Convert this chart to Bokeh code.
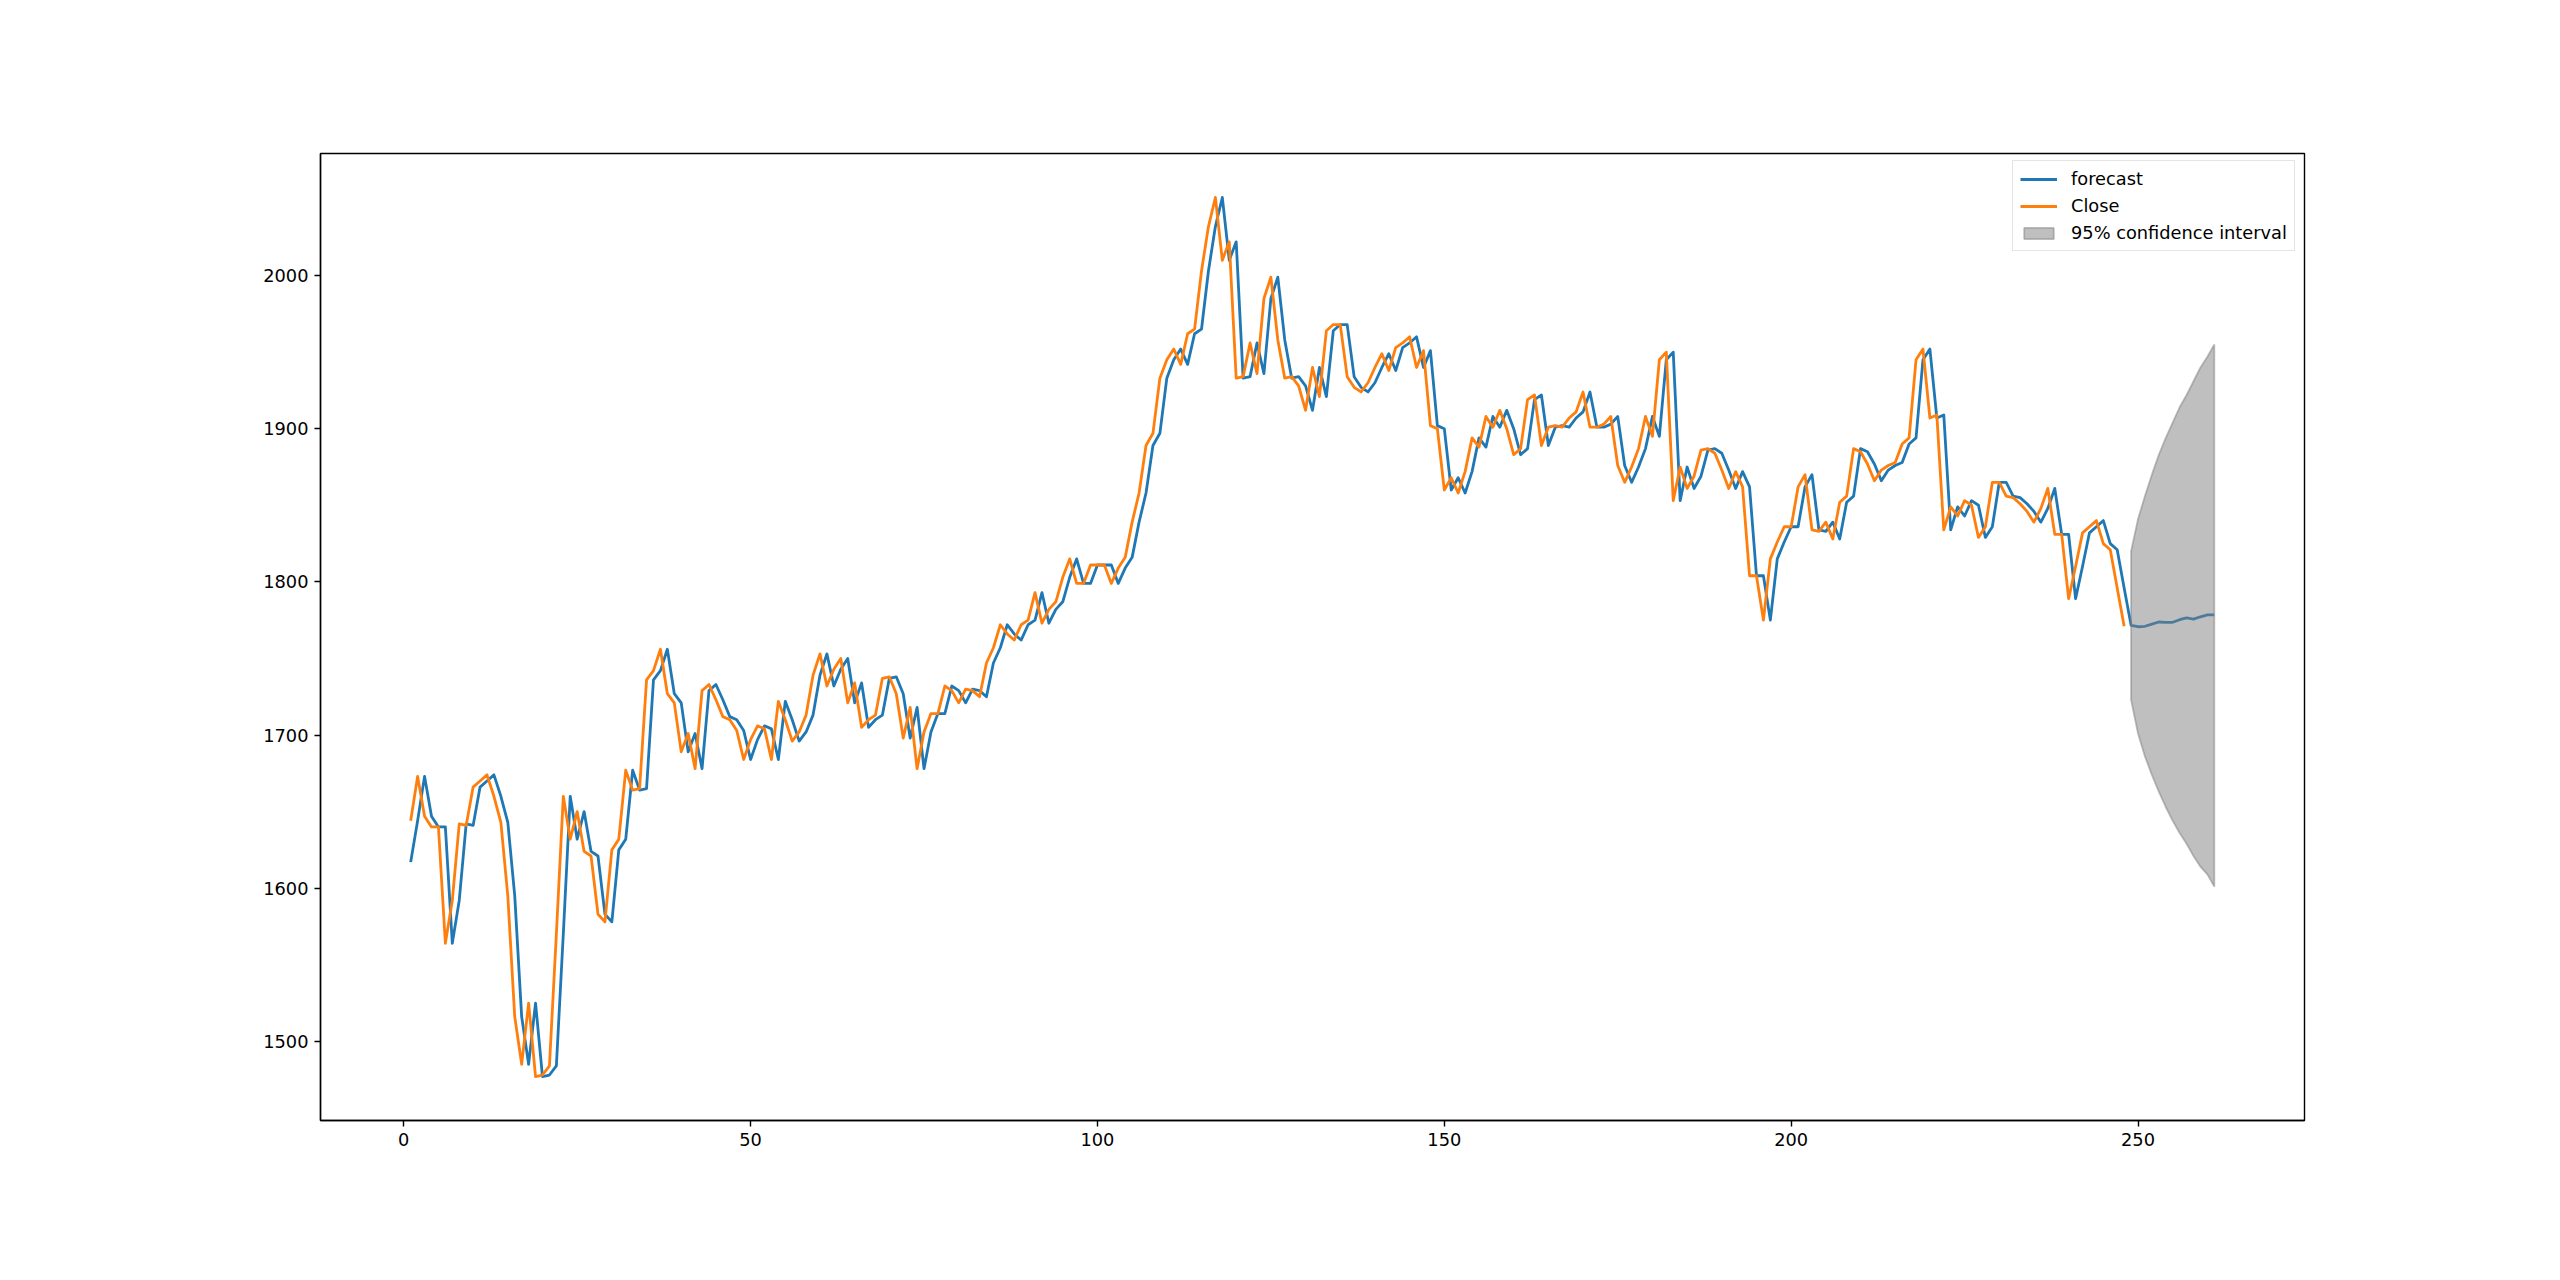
from bokeh.plotting import figure
from bokeh.models import Range1d, FixedTicker, Legend, LegendItem
from bokeh.embed import file_html
from bokeh.resources import INLINE

# ---- data ----
close_t = list(range(1, 249))
close = [
    1644, 1673, 1647, 1640, 1640, 1564, 1592, 1642, 1641, 1666,
    1670, 1674, 1660, 1643, 1595, 1516, 1485, 1525, 1477, 1478,
    1484, 1570, 1660, 1632, 1650, 1624, 1621, 1583, 1578, 1625,
    1632, 1677, 1664, 1665, 1736, 1742, 1756, 1727, 1721, 1689,
    1701, 1678, 1729, 1733, 1723, 1712, 1710, 1703, 1684, 1697,
    1706, 1704, 1684, 1722, 1710, 1696, 1702, 1713, 1739, 1753,
    1732, 1743, 1750, 1721, 1734, 1705, 1710, 1713, 1737, 1738,
    1727, 1698, 1718, 1678, 1702, 1714, 1714, 1732, 1729, 1721,
    1730, 1729, 1725, 1747, 1757, 1772, 1766, 1762, 1772, 1775,
    1793, 1773, 1782, 1787, 1803, 1815, 1799, 1799, 1811, 1811,
    1811, 1799, 1809, 1816, 1839, 1858, 1889, 1897, 1933, 1945,
    1952, 1942, 1962, 1965, 2003, 2032, 2051, 2010, 2022, 1933,
    1934, 1956, 1936, 1985, 1999, 1958, 1933, 1934, 1928, 1912,
    1940, 1921, 1964, 1968, 1968, 1934, 1927, 1924, 1930, 1940,
    1949, 1938, 1953, 1956, 1960, 1940, 1951, 1902, 1900, 1860,
    1868, 1858, 1872, 1894, 1888, 1908, 1901, 1912, 1900, 1883,
    1887, 1919, 1922, 1889, 1901, 1902, 1901, 1907, 1911, 1924,
    1901, 1901, 1903, 1908, 1876, 1865, 1875, 1887, 1908, 1895,
    1945, 1950, 1853, 1875, 1861, 1869, 1886, 1887, 1884, 1873,
    1861, 1872, 1862, 1804, 1804, 1775, 1815, 1826, 1836, 1836,
    1862, 1870, 1834, 1833, 1839, 1828, 1852, 1856, 1887, 1885,
    1877, 1866, 1873, 1876, 1878, 1890, 1894, 1945, 1952, 1907,
    1909, 1834, 1849, 1843, 1853, 1850, 1829, 1836, 1865, 1865,
    1856, 1855, 1851, 1846, 1839, 1848, 1861, 1831, 1831, 1789,
    1810, 1832, 1836, 1840, 1825, 1821, 1796, 1771,
]

forecast_t = list(range(1, 262))
forecast = [
    1617, 1644, 1673, 1647, 1640, 1640, 1564, 1592, 1642, 1641,
    1666, 1670, 1674, 1660, 1643, 1595, 1516, 1485, 1525, 1477,
    1478, 1484, 1570, 1660, 1632, 1650, 1624, 1621, 1583, 1578,
    1625, 1632, 1677, 1664, 1665, 1736, 1742, 1756, 1727, 1721,
    1689, 1701, 1678, 1729, 1733, 1723, 1712, 1710, 1703, 1684,
    1697, 1706, 1704, 1684, 1722, 1710, 1696, 1702, 1713, 1739,
    1753, 1732, 1743, 1750, 1721, 1734, 1705, 1710, 1713, 1737,
    1738, 1727, 1698, 1718, 1678, 1702, 1714, 1714, 1732, 1729,
    1721, 1730, 1729, 1725, 1747, 1757, 1772, 1766, 1762, 1772,
    1775, 1793, 1773, 1782, 1787, 1803, 1815, 1799, 1799, 1811,
    1811, 1811, 1799, 1809, 1816, 1839, 1858, 1889, 1897, 1933,
    1945, 1952, 1942, 1962, 1965, 2003, 2032, 2051, 2010, 2022,
    1933, 1934, 1956, 1936, 1985, 1999, 1958, 1933, 1934, 1928,
    1912, 1940, 1921, 1964, 1968, 1968, 1934, 1927, 1924, 1930,
    1940, 1949, 1938, 1953, 1956, 1960, 1940, 1951, 1902, 1900,
    1860, 1868, 1858, 1872, 1894, 1888, 1908, 1901, 1912, 1900,
    1883, 1887, 1919, 1922, 1889, 1901, 1902, 1901, 1907, 1911,
    1924, 1901, 1901, 1903, 1908, 1876, 1865, 1875, 1887, 1908,
    1895, 1945, 1950, 1853, 1875, 1861, 1869, 1886, 1887, 1884,
    1873, 1861, 1872, 1862, 1804, 1804, 1775, 1815, 1826, 1836,
    1836, 1862, 1870, 1834, 1833, 1839, 1828, 1852, 1856, 1887,
    1885, 1877, 1866, 1873, 1876, 1878, 1890, 1894, 1945, 1952,
    1907, 1909, 1834, 1849, 1843, 1853, 1850, 1829, 1836, 1865,
    1865, 1856, 1855, 1851, 1846, 1839, 1848, 1861, 1831, 1831,
    1789, 1810, 1832, 1836, 1840, 1825, 1821, 1796,
    1771.6, 1770.7, 1771.0, 1772.4, 1773.8, 1773.6, 1773.6,
    1775.3, 1776.5, 1775.7, 1777.2, 1778.4, 1778.4,
]

ci_t = list(range(249, 262))
ci_upper = [1820, 1841, 1856, 1870, 1883, 1894, 1904, 1914, 1922, 1931, 1940, 1947, 1955]
ci_lower = [1723, 1701, 1686, 1674, 1663, 1653, 1644, 1636, 1629, 1621, 1614, 1609, 1601]

x_ticks = [0, 50, 100, 150, 200, 250]
y_ticks = [1500, 1600, 1700, 1800, 1900, 2000]

# ---- figure ----
FONT = "DejaVu Sans"
FS = "17.8px"

p = figure(
    frame_width=1984, frame_height=967,
    min_border_left=320, min_border_right=240,
    min_border_top=153, min_border_bottom=144,
    x_range=Range1d(-12, 274), y_range=Range1d(1448.3, 2079.7),
    output_backend="svg", toolbar_location=None,
    background_fill_color="white", border_fill_color="white",
)
p.xgrid.visible = False
p.ygrid.visible = False
p.outline_line_color = "black"
p.outline_line_width = 1.4
p.outline_line_alpha = 1.0

for ax, ticks in ((p.xaxis[0], x_ticks), (p.yaxis[0], y_ticks)):
    ax.ticker = FixedTicker(ticks=ticks)
    ax.axis_line_color = "black"
    ax.axis_line_width = 1.4
    ax.major_tick_line_color = "black"
    ax.major_tick_line_width = 1.4
    ax.major_tick_out = 6
    ax.major_tick_in = 0
    ax.minor_tick_out = 0
    ax.minor_tick_in = 0
    ax.major_label_text_font = FONT
    ax.major_label_text_font_size = FS
    ax.major_label_text_color = "black"
    ax.major_label_standoff = 6

r_fc = p.line(forecast_t, forecast, line_color="#1f77b4", line_width=2.8, line_join="round")
r_cl = p.line(close_t, close, line_color="#ff7f0e", line_width=2.8, line_join="round")
poly_x = ci_t + ci_t[::-1]
poly_y = ci_upper + ci_lower[::-1]
r_ci = p.patch(poly_x, poly_y, fill_color="gray", fill_alpha=0.5,
               line_color="gray", line_alpha=0.5, line_width=1.8)

legend = Legend(
    items=[
        LegendItem(label="forecast", renderers=[r_fc]),
        LegendItem(label="Close", renderers=[r_cl]),
        LegendItem(label="95% confidence interval", renderers=[r_ci]),
    ],
    location=(1692, 869),
    label_text_font=FONT, label_text_font_size=FS, label_text_color="black",
    glyph_width=37, glyph_height=14, label_standoff=14,
    padding=7, spacing=6, label_height=20, margin=0,
    border_line_color="#cccccc", border_line_width=1.4,
    background_fill_color="white", background_fill_alpha=0.8,
)
p.add_layout(legend, "center")

open("out.html", "w").write(file_html(p, INLINE))
